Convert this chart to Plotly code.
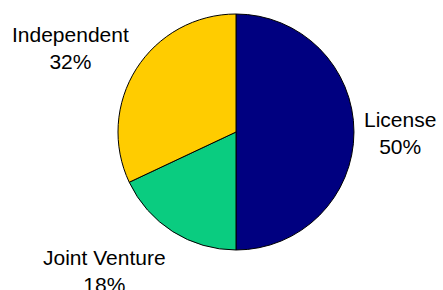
import plotly.graph_objects as go

categories = ["License", "Joint Venture", "Independent"]
values = [50, 18, 32]
colors = ["#000080", "#0ACC80", "#FFCC00"]

# label anchor positions (paper coords)
label_x = [0.903, 0.235, 0.160]
label_y = [0.543, 0.066, 0.836]

fig = go.Figure(go.Pie(
    labels=categories,
    values=values,
    sort=False,
    direction="clockwise",
    rotation=0,
    marker=dict(colors=colors, line=dict(color="black", width=1)),
    textinfo="none",
    hoverinfo="label+percent",
    domain=dict(x=[118/443, 354/443], y=[40/290, 276/290]),
    showlegend=False,
))

total = sum(values)
for c, v, x, y in zip(categories, values, label_x, label_y):
    fig.add_annotation(
        x=x, y=y, xref="paper", yref="paper",
        text=f"{c}<br>{round(100*v/total)}%",
        showarrow=False, xanchor="center", yanchor="middle",
        font=dict(family="Liberation Sans, Arial", size=21, color="black"),
    )

fig.update_layout(
    width=443, height=290,
    margin=dict(l=0, r=0, t=0, b=0),
    paper_bgcolor="white", plot_bgcolor="white",
)
fig.write_html(
    "out.html",
    config={"displayModeBar": False},
    post_script="document.body.style.margin='0';document.body.style.overflow='hidden';",
)
